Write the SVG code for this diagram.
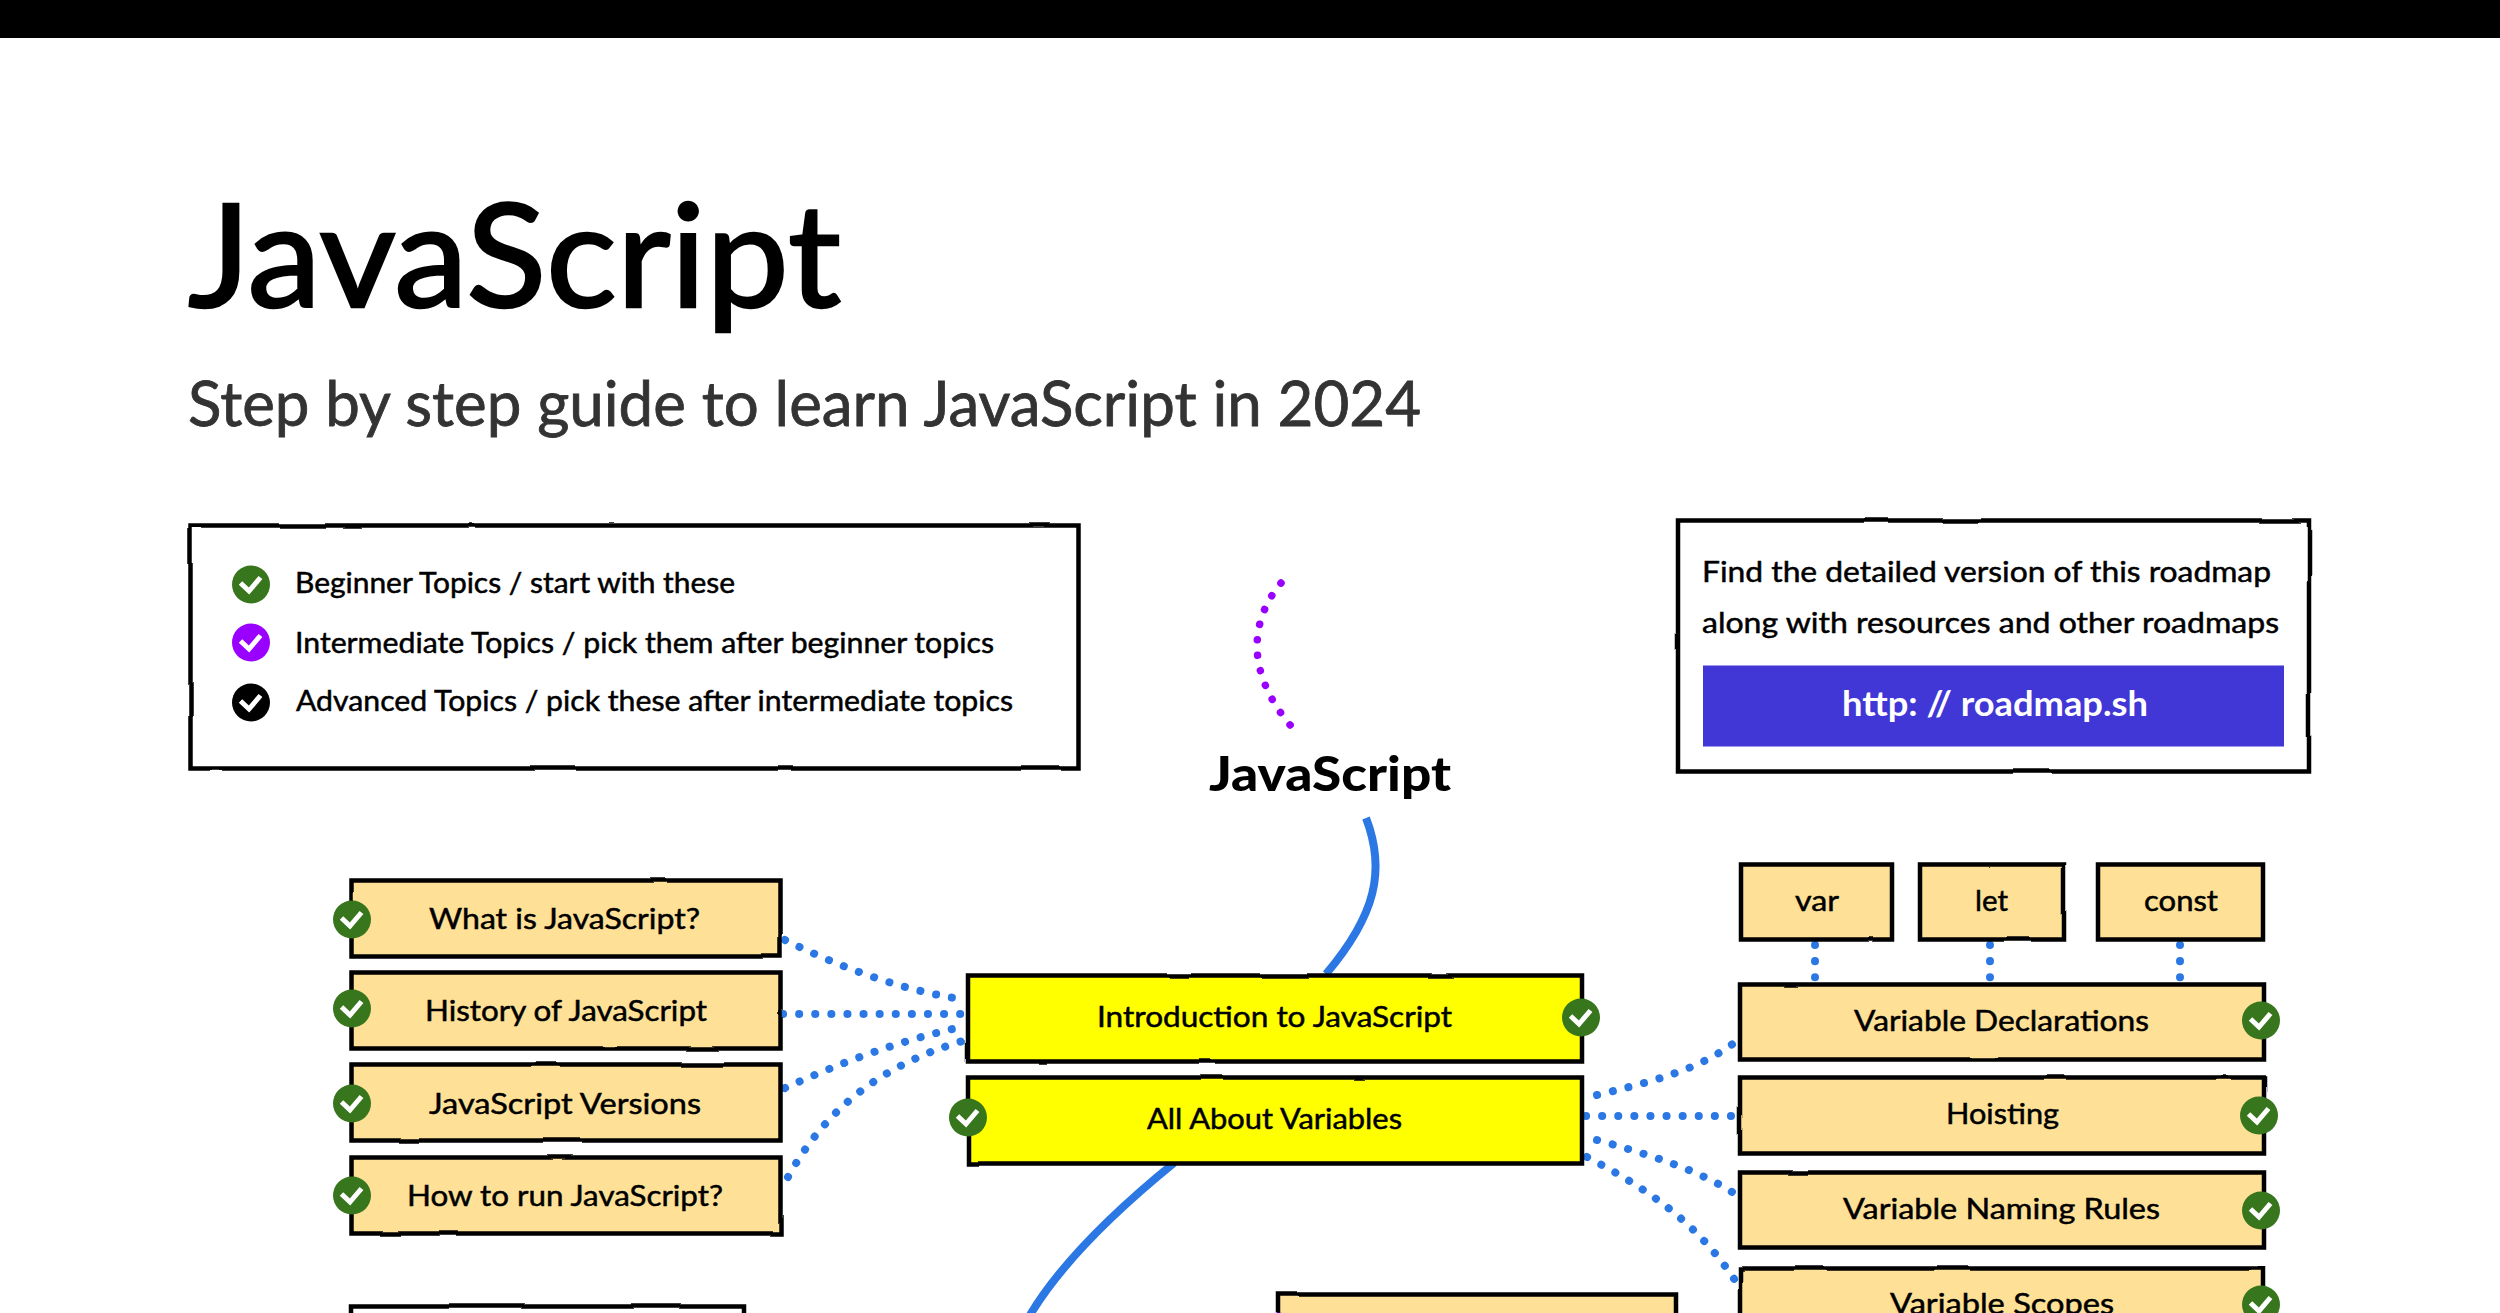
<svg xmlns="http://www.w3.org/2000/svg" width="2500" height="1313" viewBox="0 0 2500 1313">
<style>
text{font-family:"Lato","Noto Sans","Liberation Sans",sans-serif;fill:#000}
.l{font-size:29px;stroke:#000;stroke-width:.5px}
.box{fill:#fff;stroke:#000;stroke-width:4.5;filter:url(#rough)}
.n{fill:#fee196;stroke:#000;stroke-width:4.5;filter:url(#rough)}
.y{fill:#ffff00;stroke:#000;stroke-width:4.5;filter:url(#rough)}
.solid{fill:none;stroke:#2b78e4;stroke-width:8}
.dot{fill:none;stroke:#2b78e4;stroke-width:8;stroke-linecap:round;stroke-dasharray:.1 16}
.pdot{fill:none;stroke:#9900ff;stroke-width:7.500;stroke-linecap:round;stroke-dasharray:.1 15.500}
.g{fill:#38761d}.p{fill:#9900ff}.k{fill:#000}
.c{fill:none;stroke:#fff;stroke-width:5}
</style>
<defs>
<filter id="rough" x="-5%" y="-15%" width="110%" height="130%"><feTurbulence type="fractalNoise" baseFrequency=".012" numOctaves="2" seed="4"/><feDisplacementMap in="SourceGraphic" scale="2.500"/></filter>
<g id="chk-g"><circle r="19" class="g"/><path d="M-10.500 -1.500L-2 6.500L9.500 -7" class="c"/></g>
<g id="chk-p"><circle r="19" class="p"/><path d="M-10.500 -1.500L-2 6.500L9.500 -7" class="c"/></g>
<g id="chk-k"><circle r="19" class="k"/><path d="M-10.500 -1.500L-2 6.500L9.500 -7" class="c"/></g>
</defs>
<rect width="2500" height="1313" fill="#fff"/>
<rect id="top-bar" width="2500" height="38" fill="#000"/>
<text id="title" x="188" y="307" font-size="144" textLength="653" lengthAdjust="spacingAndGlyphs" stroke="#000" stroke-width="2.500">JavaScript</text>
<text id="subtitle" x="188" y="425.500" font-size="61" textLength="1233" lengthAdjust="spacingAndGlyphs" stroke="#333" stroke-width=".8" style="fill:#333">Step by step guide to learn JavaScript in 2024</text>

<g id="connectors">
<path class="pdot" d="M1281 583C1250 620 1245 672 1291 726"/>
<path class="solid" d="M1366 818C1386 870 1376 915 1326 974"/>
<path class="solid" d="M1174 1163C1110 1215 1060 1265 1030 1315"/>
<path class="dot" d="M785 940C840 967 900 990 966 1000"/>
<path class="dot" d="M783 1014H966"/>
<path class="dot" d="M785 1088C840 1063 900 1040 966 1026"/>
<path class="dot" d="M788 1177C825 1110 880 1065 966 1040"/>
<path class="dot" d="M1597 1095C1650 1082 1700 1070 1738 1040"/>
<path class="dot" d="M1586 1116H1738"/>
<path class="dot" d="M1597 1140C1650 1155 1700 1170 1738 1196"/>
<path class="dot" d="M1587 1157C1650 1190 1700 1225 1738 1285"/>
<path class="dot" d="M1815 945V980"/>
<path class="dot" d="M1990 945V980"/>
<path class="dot" d="M2180 945V980"/>
</g>

<g transform="translate(0,1.500)">
<g id="legend">
<rect class="box" x="190.500" y="524" width="888" height="243"/>
<use href="#chk-g" x="251" y="583"/>
<text class="l" x="295" y="591" textLength="440" lengthAdjust="spacingAndGlyphs">Beginner Topics / start with these</text>
<use href="#chk-p" x="251" y="641"/>
<text class="l" x="295" y="651" textLength="699" lengthAdjust="spacingAndGlyphs">Intermediate Topics / pick them after beginner topics</text>
<use href="#chk-k" x="251" y="701"/>
<text class="l" x="296" y="709" textLength="717" lengthAdjust="spacingAndGlyphs">Advanced Topics / pick these after intermediate topics</text>
</g>

<g id="info">
<rect class="box" x="1678" y="519" width="631" height="251"/>
<text class="l" x="1702" y="580" textLength="569" lengthAdjust="spacingAndGlyphs">Find the detailed version of this roadmap</text>
<text class="l" x="1702" y="631" textLength="577" lengthAdjust="spacingAndGlyphs">along with resources and other roadmaps</text>
<rect x="1703" y="664" width="581" height="81" fill="#4136d6"/>
<text x="1842" y="714" font-size="35" font-weight="700" textLength="306" lengthAdjust="spacingAndGlyphs" style="fill:#fff">http: // roadmap.sh</text>
</g>

<g id="root"><text x="1209" y="789" font-size="48" font-weight="900" textLength="242" lengthAdjust="spacingAndGlyphs">JavaScript</text></g>

<g id="what"><rect class="n" x="351.500" y="879" width="429" height="76"/><use href="#chk-g" x="352" y="918"/><text class="l" x="429" y="927" textLength="271" lengthAdjust="spacingAndGlyphs">What is JavaScript?</text></g>
<g id="history"><rect class="n" x="351.500" y="971" width="429" height="76"/><use href="#chk-g" x="352" y="1007"/><text class="l" x="425" y="1019" textLength="282" lengthAdjust="spacingAndGlyphs">History of JavaScript</text></g>
<g id="versions"><rect class="n" x="351.500" y="1063" width="429" height="76"/><use href="#chk-g" x="352" y="1102"/><text class="l" x="429" y="1112" textLength="272" lengthAdjust="spacingAndGlyphs">JavaScript Versions</text></g>
<g id="run"><rect class="n" x="351.500" y="1156" width="429" height="76"/><use href="#chk-g" x="352" y="1194"/><text class="l" x="407" y="1204" textLength="316" lengthAdjust="spacingAndGlyphs">How to run JavaScript?</text></g>
<g id="lower-left"><rect class="box" x="351" y="1305" width="393" height="60"/></g>

<g id="intro"><rect class="y" x="968" y="974" width="614" height="86"/><use href="#chk-g" x="1581" y="1016"/><text class="l" x="1097" y="1025" textLength="355" lengthAdjust="spacingAndGlyphs">Introduction to JavaScript</text></g>
<g id="variables"><rect class="y" x="968" y="1076" width="614" height="86"/><use href="#chk-g" x="968" y="1116"/><text class="l" x="1147" y="1127" textLength="255" lengthAdjust="spacingAndGlyphs">All About Variables</text></g>
<g id="lower-center"><rect class="n" x="1279" y="1293" width="397" height="60"/><use href="#chk-p" x="1278" y="1330"/></g>

<g id="var"><rect class="n" x="1741" y="863" width="151" height="75"/><text class="l" x="1795" y="909" textLength="44" lengthAdjust="spacingAndGlyphs">var</text></g>
<g id="let"><rect class="n" x="1920" y="863" width="144" height="75"/><text class="l" x="1975" y="909" textLength="33" lengthAdjust="spacingAndGlyphs">let</text></g>
<g id="const"><rect class="n" x="2098" y="863" width="165" height="75"/><text class="l" x="2144" y="909" textLength="74" lengthAdjust="spacingAndGlyphs">const</text></g>
<g id="declarations"><rect class="n" x="1740" y="983" width="524" height="75"/><use href="#chk-g" x="2261" y="1019"/><text class="l" x="1854" y="1029" textLength="295" lengthAdjust="spacingAndGlyphs">Variable Declarations</text></g>
<g id="hoisting"><rect class="n" x="1740" y="1076" width="524" height="76"/><use href="#chk-g" x="2259" y="1114"/><text class="l" x="1946" y="1122" textLength="113" lengthAdjust="spacingAndGlyphs">Hoisting</text></g>
<g id="naming"><rect class="n" x="1740" y="1171" width="524" height="75"/><use href="#chk-g" x="2261" y="1209"/><text class="l" x="1843" y="1217" textLength="317" lengthAdjust="spacingAndGlyphs">Variable Naming Rules</text></g>
<g id="scopes"><rect class="n" x="1740" y="1267" width="524" height="76"/><use href="#chk-g" x="2261" y="1303"/><text class="l" x="1890" y="1312" textLength="224" lengthAdjust="spacingAndGlyphs">Variable Scopes</text></g>
</g>
</svg>
